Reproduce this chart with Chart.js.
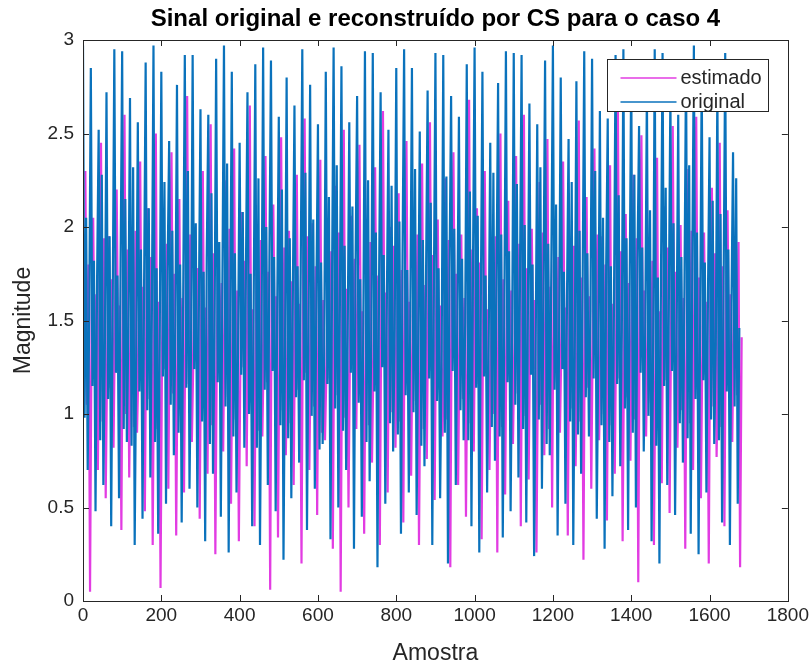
<!DOCTYPE html>
<html>
<head>
<meta charset="utf-8">
<script src="https://cdn.jsdelivr.net/npm/chart.js@4/dist/chart.umd.min.js"></script>
<style>
html,body{margin:0;padding:0;background:#fff;}
#wrap{width:812px;height:666px;position:relative;}
</style>
</head>
<body>
<div id="wrap"><canvas id="c" width="812" height="666"></canvas></div>
<script>
// ---------- text ----------
const chartTitle = "Sinal original e reconstruído por CS para o caso 4";
const xAxisLabel = "Amostra";
const yAxisLabel = "Magnitude";
const seriesNames = ["estimado", "original"];

// ---------- tick labels ----------
const xTickValues = [0, 200, 400, 600, 800, 1000, 1200, 1400, 1600, 1800];
const yTickValues = [0, 0.5, 1, 1.5, 2, 2.5, 3];

// ---------- samples per spike cycle (read from spacing of the spikes) ----------
const cycleSamples = 20;
const turnOffsets = [0, 4, 8, 12, 16];   // sample offsets of turning points inside a cycle
const estShift = 6;                       // estimated signal turning points lie between original ones

// ---------- original signal: turning-point values per cycle ----------
const origPeaks = [
  2.97,2.85,2.52,2.72,2.95,2.94,2.69,2.56,2.88,2.97,2.83,2.46,2.76,2.92,
  2.92,2.63,2.60,2.90,2.97,2.83,2.45,2.72,2.87,2.96,2.89,2.59,2.80,2.65,
  2.95,2.76,2.55,2.83,2.96,2.86,2.56,2.70,2.94,2.93,2.72,2.52,2.85,2.95,
  2.85,2.51,2.73,2.93,2.92,2.70,2.59,2.87,2.96,2.83,2.45,2.77,2.94,2.93,
  2.92,2.66,2.55,2.89,2.97,2.80,2.47,2.78,2.94,2.90,2.62,2.58,2.92,2.95,
  2.86,2.54,2.74,2.95,2.93,2.72,2.60,2.88,2.97,2.82,2.48,2.76,2.93,2.40
];
const origBandLow = [
  0.98,1.15,0.86,1.08,1.22,0.92,0.83,1.12,1.02,0.85,1.20,1.05,0.90,1.14,
  1.24,0.96,0.84,1.17,1.04,0.88,1.21,1.00,0.82,1.13,1.23,0.94,0.87,1.09,
  1.18,0.99,0.81,1.16,1.03,0.91,1.22,1.06,0.85,1.12,1.25,0.95,0.89,1.10,
  1.01,0.83,1.19,1.07,0.90,1.23,1.02,0.86,1.14,1.20,0.93,0.88,1.17,1.05,
  0.92,1.21,0.97,0.84,1.13,1.24,0.96,0.89,1.09,1.19,0.94,0.85,1.16,1.03,
  0.90,1.22,0.99,0.83,1.15,1.23,0.95,0.87,1.08,1.18,0.97,0.86,1.12,1.04
];
const origBandHigh = [
  2.05,1.82,2.28,1.95,1.74,2.15,2.32,1.88,2.10,1.78,2.24,1.98,1.80,2.30,
  2.02,1.76,2.18,1.92,2.34,1.86,2.08,1.75,2.26,2.00,1.84,2.20,1.94,1.79,
  2.29,2.04,1.81,2.16,2.33,1.90,2.11,1.72,2.25,1.97,1.85,2.22,2.03,1.77,
  2.31,1.93,2.13,1.78,2.27,1.99,1.83,2.19,2.06,1.74,2.29,1.96,1.87,2.23,
  2.01,1.80,2.32,1.91,2.12,1.76,2.24,1.98,1.86,2.30,2.05,1.79,2.17,1.94,
  2.28,1.89,2.09,1.73,2.21,2.02,1.84,2.33,1.97,1.81,2.14,2.07,1.88,2.26
];
const origTroughs = [
  0.70,0.48,0.62,0.40,0.55,0.85,0.30,0.44,0.66,0.36,0.52,0.78,0.42,0.60,
  0.50,0.32,0.68,0.45,0.26,0.58,0.82,0.40,0.30,0.62,0.48,0.22,0.55,0.74,
  0.38,0.60,0.84,0.33,0.50,0.70,0.28,0.45,0.64,0.18,0.52,0.80,0.36,0.58,
  0.46,0.72,0.30,0.55,0.20,0.62,0.86,0.40,0.26,0.58,0.75,0.34,0.48,0.66,
  0.42,0.24,0.60,0.78,0.35,0.52,0.30,0.68,0.88,0.44,0.28,0.56,0.72,0.38,
  0.50,0.80,0.32,0.20,0.62,0.46,0.74,0.36,0.25,0.58,0.84,0.42,0.30,0.52
];
const origBandMid = [
  1.55,1.72,1.40,1.63,1.80,1.48,1.35,1.68,1.58,1.42,1.76,1.50,1.66,1.38,
  1.60,1.83,1.45,1.70,1.52,1.36,1.74,1.62,1.44,1.81,1.56,1.39,1.67,1.78,
  1.47,1.64,1.33,1.71,1.59,1.43,1.79,1.53,1.37,1.69,1.61,1.46,1.84,1.57,
  1.41,1.73,1.65,1.34,1.77,1.54,1.49,1.82,1.62,1.38,1.70,1.58,1.44,1.75,
  1.51,1.36,1.68,1.80,1.47,1.63,1.40,1.72,1.56,1.35,1.78,1.60,1.45,1.66,
  1.82,1.50,1.39,1.74,1.57,1.43,1.69,1.81,1.48,1.64,1.37,1.71,1.59,1.46
];

// ---------- estimated signal: turning-point values per cycle ----------
const estPeaks = [
  2.30,2.05,2.45,1.95,2.20,2.60,1.85,2.35,2.10,2.50,1.90,2.40,2.15,2.70,
  2.00,2.30,2.55,1.88,2.25,2.42,2.08,2.65,1.92,2.38,2.12,2.48,1.98,2.28,
  2.58,2.02,2.36,1.86,2.22,2.52,2.06,2.44,1.94,2.32,2.62,2.00,2.18,2.46,
  1.90,2.34,2.56,2.04,2.26,2.40,1.96,2.68,2.10,2.30,1.87,2.50,2.14,2.38,
  2.60,1.99,2.24,2.47,2.03,2.35,1.91,2.57,2.16,2.42,1.95,2.33,2.63,2.07,
  2.28,2.49,1.93,2.37,2.11,2.54,2.01,2.31,2.59,1.97,2.21,2.45,2.09,1.80
];
const estBandLow = [
  1.05,1.20,0.96,1.14,1.27,1.00,0.93,1.18,1.08,0.92,1.24,1.11,0.99,1.16,
  1.28,1.03,0.94,1.21,1.09,0.97,1.25,1.06,0.91,1.17,1.29,1.02,0.95,1.13,
  1.22,1.04,0.90,1.19,1.10,0.98,1.26,1.12,0.94,1.18,1.30,1.01,0.96,1.15,
  1.07,0.92,1.23,1.13,0.97,1.27,1.08,0.95,1.16,1.25,1.00,0.93,1.20,1.11,
  0.99,1.24,1.05,0.92,1.17,1.29,1.03,0.96,1.14,1.22,1.00,0.94,1.19,1.09,
  0.97,1.26,1.06,0.91,1.18,1.28,1.02,0.95,1.13,1.21,1.04,0.93,1.17,1.10
];
const estBandHigh = [
  1.80,1.64,1.94,1.72,1.58,1.88,1.98,1.68,1.84,1.60,1.91,1.75,1.62,1.96,
  1.78,1.57,1.86,1.70,1.99,1.66,1.82,1.56,1.93,1.76,1.63,1.89,1.71,1.59,
  1.95,1.79,1.61,1.87,1.97,1.67,1.83,1.55,1.92,1.74,1.65,1.90,1.77,1.60,
  1.96,1.69,1.85,1.58,1.93,1.75,1.62,1.88,1.81,1.56,1.95,1.72,1.66,1.91,
  1.78,1.61,1.97,1.68,1.84,1.57,1.90,1.73,1.63,1.96,1.80,1.59,1.87,1.70,
  1.94,1.66,1.82,1.55,1.89,1.76,1.62,1.98,1.73,1.60,1.86,1.79,1.64,1.92
];
const estTroughs = [
  0.05,0.70,0.55,0.82,0.38,0.66,0.90,0.48,0.30,0.07,0.60,0.35,0.58,0.85,
  0.44,0.68,0.25,0.80,0.52,0.32,0.72,0.40,0.88,0.06,0.34,0.78,0.62,0.20,
  0.70,0.46,0.86,0.28,0.05,0.50,0.92,0.36,0.74,0.30,0.58,0.82,0.42,0.67,
  0.30,0.76,0.54,0.88,0.18,0.62,0.45,0.80,0.33,0.70,0.26,0.57,0.84,0.40,
  0.65,0.26,0.78,0.50,0.90,0.35,0.72,0.22,0.60,0.86,0.43,0.68,0.32,0.75,
  0.10,0.88,0.30,0.63,0.47,0.82,0.28,0.70,0.55,0.20,0.77,0.40,0.85,0.18
];
const estBandMid = [
  1.50,1.68,1.34,1.58,1.76,1.42,1.29,1.63,1.53,1.37,1.72,1.45,1.61,1.32,
  1.55,1.79,1.40,1.65,1.47,1.30,1.70,1.57,1.39,1.77,1.51,1.33,1.62,1.74,
  1.41,1.59,1.27,1.66,1.54,1.38,1.75,1.48,1.31,1.64,1.56,1.40,1.80,1.52,
  1.36,1.69,1.60,1.28,1.73,1.49,1.44,1.78,1.57,1.33,1.65,1.53,1.39,1.71,
  1.46,1.30,1.63,1.76,1.42,1.58,1.35,1.67,1.51,1.29,1.74,1.55,1.40,1.61,
  1.78,1.45,1.34,1.70,1.52,1.38,1.64,1.77,1.43,1.59,1.32,1.66,1.54,1.41
];

// ---------- build point tables from the arrays ----------
function buildPoints(shift, columns) {
  const pts = [];
  const n = columns[0].length;
  for (let k = 0; k < n; k++) {
    for (let j = 0; j < columns.length; j++) {
      pts.push({ x: k * cycleSamples + shift + turnOffsets[j], y: columns[j][k] });
    }
  }
  return pts;
}
const origPoints = buildPoints(0, [origPeaks, origBandLow, origBandHigh, origTroughs, origBandMid]);
const estPoints  = buildPoints(estShift, [estPeaks, estBandLow, estBandHigh, estTroughs, estBandMid]);

const colEst = '#E23CE2';
const colOrig = '#0A72BC';
const textCol = '#262626';
const fontFam = '"Liberation Sans", Arial, Helvetica, sans-serif';

const framePlugin = {
  id: 'frame',
  afterDatasetsDraw(chart) {
    const { ctx, chartArea: a, scales: { x, y } } = chart;
    ctx.save();
    ctx.strokeStyle = textCol;
    ctx.lineWidth = 1;
    const tl = 6;
    ctx.beginPath();
    xTickValues.forEach(v => {
      const px = Math.round(x.getPixelForValue(v)) + 0.5;
      ctx.moveTo(px, a.bottom); ctx.lineTo(px, a.bottom - tl);
      ctx.moveTo(px, a.top); ctx.lineTo(px, a.top + tl);
    });
    yTickValues.forEach(v => {
      const py = Math.round(y.getPixelForValue(v)) + 0.5;
      ctx.moveTo(a.left, py); ctx.lineTo(a.left + tl, py);
      ctx.moveTo(a.right, py); ctx.lineTo(a.right - tl, py);
    });
    ctx.stroke();
    ctx.strokeRect(Math.round(a.left) + 0.5, Math.round(a.top) + 0.5,
                   Math.round(a.right - a.left), Math.round(a.bottom - a.top));

    // title, centred over the axes
    ctx.fillStyle = '#000';
    ctx.font = 'bold 24px ' + fontFam;
    ctx.textAlign = 'center';
    ctx.textBaseline = 'middle';
    ctx.fillText(chartTitle, (a.left + a.right) / 2, 19);

    // legend box (inside top-right of the axes)
    const bw = 161, bh = 52;
    const bx = Math.round(a.right - 20 - bw) + 0.5, by = Math.round(a.top + 19) + 0.5;
    ctx.fillStyle = '#fff';
    ctx.fillRect(bx, by, bw, bh);
    ctx.strokeStyle = textCol;
    ctx.lineWidth = 1;
    ctx.strokeRect(bx, by, bw, bh);
    const colors = [colEst, colOrig];
    ctx.font = '20px ' + fontFam;
    ctx.textBaseline = 'middle';
    ctx.textAlign = 'left';
    seriesNames.forEach((name, i) => {
      const ly = Math.round(by + 18 + i * 24);
      ctx.strokeStyle = colors[i];
      ctx.lineWidth = 1.6;
      ctx.beginPath(); ctx.moveTo(bx + 13, ly); ctx.lineTo(bx + 69, ly); ctx.stroke();
      ctx.fillStyle = textCol;
      ctx.fillText(name, bx + 73, ly);
    });
    ctx.restore();
  }
};

new Chart(document.getElementById('c'), {
  type: 'line',
  data: {
    datasets: [
      { label: seriesNames[0], data: estPoints, borderColor: colEst, borderWidth: 2.2,
        pointRadius: 0, tension: 0, fill: false, order: 2 },
      { label: seriesNames[1], data: origPoints, borderColor: colOrig, borderWidth: 2.2,
        pointRadius: 0, tension: 0, fill: false, order: 1 }
    ]
  },
  options: {
    responsive: false,
    animation: false,
    devicePixelRatio: 1,
    events: [],
    layout: { padding: { left: 0, right: 24, top: 40, bottom: 0 } },
    plugins: {
      legend: { display: false },
      tooltip: { enabled: false },
      title: { display: false }
    },
    scales: {
      x: {
        type: 'linear', min: 0, max: 1800,
        afterBuildTicks: s => { s.ticks = xTickValues.map(v => ({ value: v })); },
        afterFit: s => { s.height = 65; },
        grid: { display: false, drawTicks: false },
        border: { display: false },
        ticks: { color: textCol, font: { family: fontFam, size: 19 }, padding: 3, maxRotation: 0,
                 autoSkip: false, callback: v => String(v) },
        title: { display: true, text: xAxisLabel, color: textCol,
                 font: { family: fontFam, size: 23 }, padding: { top: 0, bottom: -1 } }
      },
      y: {
        type: 'linear', min: 0, max: 3,
        afterBuildTicks: s => { s.ticks = yTickValues.map(v => ({ value: v })); },
        afterFit: s => { s.width = 83; },
        grid: { display: false, drawTicks: false },
        border: { display: false },
        ticks: { color: textCol, font: { family: fontFam, size: 19 }, padding: 9,
                 autoSkip: false, callback: v => String(v) },
        title: { display: true, text: yAxisLabel, color: textCol,
                 font: { family: fontFam, size: 23 }, padding: { top: 10, bottom: 0 } }
      }
    }
  },
  plugins: [framePlugin]
});
</script>
</body>
</html>
